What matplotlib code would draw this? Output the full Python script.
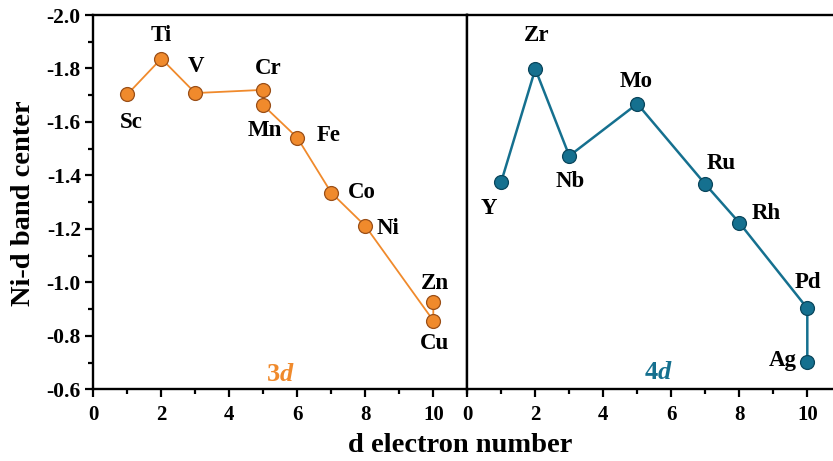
import matplotlib
matplotlib.use("Agg")
import matplotlib.pyplot as plt
from matplotlib.ticker import MultipleLocator

plt.rcParams['font.family'] = ['Liberation Serif', 'DejaVu Serif']
plt.rcParams['font.weight'] = 'bold'
plt.rcParams['mathtext.fontset'] = 'custom'
plt.rcParams['mathtext.it'] = 'Liberation Serif:italic:bold'
plt.rcParams['mathtext.rm'] = 'Liberation Serif:bold'

# 3d series
el_3d = ["Sc", "Ti", "V", "Cr", "Mn", "Fe", "Co", "Ni", "Cu", "Zn"]
x_3d = [1, 2, 3, 5, 5, 6, 7, 8, 10, 10]
y_3d = [-1.703, -1.837, -1.708, -1.720, -1.662, -1.541, -1.335, -1.211, -0.857, -0.926]

# 4d series
el_4d = ["Y", "Zr", "Nb", "Mo", "Ru", "Rh", "Pd", "Ag"]
x_4d = [1, 2, 3, 5, 7, 8, 10, 10]
y_4d = [-1.377, -1.798, -1.473, -1.668, -1.367, -1.223, -0.903, -0.703]

x_ticks = [0, 2, 4, 6, 8, 10]
y_ticks = [-2.0, -1.8, -1.6, -1.4, -1.2, -1.0, -0.8, -0.6]

orange = "#F08A2C"
orange_edge = "#9A4F18"
blue = "#15708F"
blue_edge = "#0A465C"

W, H = 833, 461
fig = plt.figure(figsize=(W / 100, H / 100), dpi=100)

x0, xs, x1 = 93.3, 467.3, 841.3
ytop, ybot = 15.0, 389.3
ax1 = fig.add_axes([x0 / W, 1 - ybot / H, (xs - x0) / W, (ybot - ytop) / H])
ax2 = fig.add_axes([xs / W, 1 - ybot / H, (x1 - xs) / W, (ybot - ytop) / H])

for ax in (ax1, ax2):
    ax.set_xlim(0, 11)
    ax.set_ylim(-0.6, -2.0)
    ax.set_xticks(x_ticks)
    ax.xaxis.set_minor_locator(MultipleLocator(1))
    ax.tick_params(axis='x', which='major', direction='out', length=6, width=1.6,
                   labelsize=15, pad=5)
    ax.tick_params(axis='x', which='minor', direction='out', length=3.5, width=1.6)
    for s in ax.spines.values():
        s.set_linewidth(1.7)
    for lab in ax.get_xticklabels():
        lab.set_fontweight('bold')

ax1.set_yticks(y_ticks)
ax1.set_yticklabels([f"{v:.1f}" for v in y_ticks])
ax1.yaxis.set_minor_locator(MultipleLocator(0.1))
ax1.tick_params(axis='y', which='major', direction='out', length=6, width=1.6,
                labelsize=15.5, pad=3)
ax1.tick_params(axis='y', which='minor', direction='out', length=3.5, width=1.6)
ax2.tick_params(axis='y', which='both', left=False, labelleft=False)

ax1.plot(x_3d, y_3d, '-', color=orange, lw=1.3, marker='o', ms=10,
         mfc=orange, mec=orange_edge, mew=0.9, zorder=3)
ax2.plot(x_4d, y_4d, '-', color=blue, lw=1.8, marker='o', ms=10,
         mfc=blue, mec=blue_edge, mew=0.9, zorder=3)

fs = 16.5
# label offsets in points
off_3d = {"Sc": (3, -20), "Ti": (0, 16.5), "V": (0.5, 19), "Cr": (3.6, 15.6),
          "Mn": (1, -17.8), "Fe": (22.3, 1.9), "Co": (21.9, 0), "Ni": (16.6, -1.7),
          "Cu": (1.2, -16.3), "Zn": (1.2, 13.5)}
for e, x, y in zip(el_3d, x_3d, y_3d):
    dx, dy = off_3d[e]
    ax1.annotate(e, (x, y), xytext=(dx, dy), textcoords='offset points',
                 ha='center', va='center', fontsize=fs, fontweight='bold')

off_4d = {"Y": (-8.6, -19.2), "Zr": (1, 23.8), "Nb": (0.5, -18.5), "Mo": (-1, 15.8),
          "Ru": (11.8, 14.6), "Rh": (19.7, 6.8), "Pd": (0.7, 18.4), "Ag": (-17.3, 1.2)}
for e, x, y in zip(el_4d, x_4d, y_4d):
    dx, dy = off_4d[e]
    ax2.annotate(e, (x, y), xytext=(dx, dy), textcoords='offset points',
                 ha='center', va='center', fontsize=fs, fontweight='bold')

ax1.text(5.49, -0.654, r"3$\mathit{d}$", color=orange, fontsize=19,
         fontweight='bold', ha='center', va='center')
ax2.text(5.61, -0.661, r"4$\mathit{d}$", color=blue, fontsize=19,
         fontweight='bold', ha='center', va='center')

fig.text(24 / W, 1 - 203 / H, "Ni-d band center", rotation=90, fontsize=20.5,
         fontweight='bold', ha='center', va='center')
fig.text(460 / W, 1 - 452 / H, "d electron number", fontsize=20.5,
         fontweight='bold', ha='center', va='baseline')

fig.savefig("out.png", dpi=100)
